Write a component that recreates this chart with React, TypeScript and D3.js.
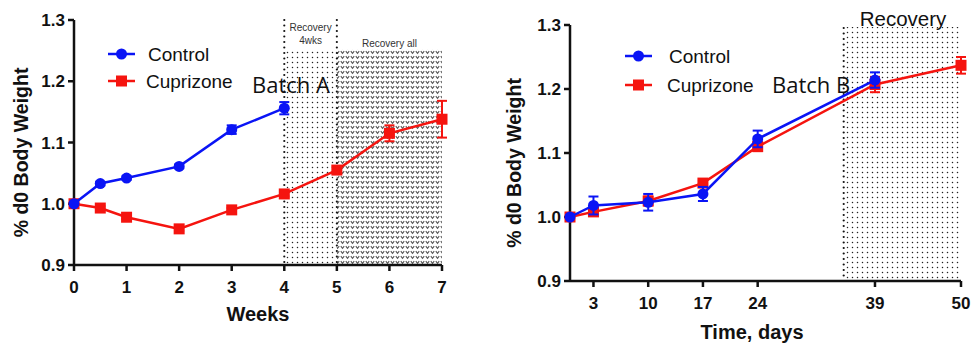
import React from "react";
import * as d3 from "d3";

// Batch A (weeks)
const weeksControl = [0, 0.5, 1, 2, 3, 4];
const controlA = [1.0, 1.033, 1.042, 1.061, 1.121, 1.156];
const controlAErr = [0, 0.003, 0.003, 0.003, 0.007, 0.01];
const weeksCupri = [0, 0.5, 1, 2, 3, 4, 5, 6, 7];
const cupriA = [1.0, 0.993, 0.978, 0.959, 0.99, 1.016, 1.055, 1.115, 1.138];
const cupriAErr = [0, 0.003, 0.003, 0.003, 0.003, 0.004, 0.006, 0.013, 0.03];
const weekTicks = [0, 1, 2, 3, 4, 5, 6, 7];

// Batch B (days)
const daysControl = [0, 3, 10, 17, 24, 39];
const controlB = [1.0, 1.018, 1.023, 1.036, 1.122, 1.214];
const controlBErr = [0, 0.014, 0.013, 0.011, 0.013, 0.012];
const daysCupri = [0, 3, 10, 17, 24, 39, 50];
const cupriB = [1.0, 1.008, 1.025, 1.053, 1.11, 1.207, 1.237];
const cupriBErr = [0, 0.006, 0.007, 0.004, 0.007, 0.012, 0.013];
const dayTicks = [3, 10, 17, 24, 39, 50];

const yTicks = [0.9, 1.0, 1.1, 1.2, 1.3];

const BLUE = "#0a14f5";
const RED = "#f5140f";
const ARIAL = "'Liberation Sans', Arial, sans-serif";
const SOFT = "'Open Sans', sans-serif";

type Pt = { x: number; y: number; e: number };
const zipPts = (xs: number[], ys: number[], es: number[]): Pt[] => xs.map((x, i) => ({ x, y: ys[i], e: es[i] }));

function Series({ pts, x, y, color, shape }: { pts: Pt[]; x: any; y: any; color: string; shape: "circle" | "square" }) {
  const line = d3.line<Pt>().x(d => x(d.x)).y(d => y(d.y));
  return (
    <g>
      <path d={line(pts) || ""} fill="none" stroke={color} strokeWidth={2.5} />
      {pts.map((d, i) => d.e > 0 && (
        <g key={"e" + i} stroke={color} strokeWidth={2}>
          <line x1={x(d.x)} x2={x(d.x)} y1={y(d.y - d.e)} y2={y(d.y + d.e)} />
          <line x1={x(d.x) - 5} x2={x(d.x) + 5} y1={y(d.y - d.e)} y2={y(d.y - d.e)} />
          <line x1={x(d.x) - 5} x2={x(d.x) + 5} y1={y(d.y + d.e)} y2={y(d.y + d.e)} />
        </g>
      ))}
      {pts.map((d, i) => shape === "circle"
        ? <circle key={i} cx={x(d.x)} cy={y(d.y)} r={5.5} fill={color} />
        : <rect key={i} x={x(d.x) - 5.5} y={y(d.y) - 5.5} width={11} height={11} fill={color} />)}
    </g>
  );
}

function Axes({ x, y, xTicks, xLabel, xLabelX, xLabelY, yLabelX }: any) {
  const [x0, x1] = x.range();
  const [y0, y1] = y.range();
  return (
    <g fontFamily={ARIAL} fontWeight="bold" fill="#111">
      <line x1={x0} x2={x1} y1={y0} y2={y0} stroke="#111" strokeWidth={2.5} />
      <line x1={x0} x2={x0} y1={y0 + 1} y2={y1} stroke="#111" strokeWidth={2.5} />
      {yTicks.map(t => (
        <g key={t}>
          <line x1={x0 - 6} x2={x0} y1={y(t)} y2={y(t)} stroke="#111" strokeWidth={2.5} />
          <text x={x0 - 9} y={y(t) + 6} textAnchor="end" fontSize={17}>{t.toFixed(1)}</text>
        </g>
      ))}
      {xTicks.map((t: number) => (
        <g key={t}>
          <line x1={x(t)} x2={x(t)} y1={y0} y2={y0 + 6} stroke="#111" strokeWidth={2.5} />
          <text x={x(t)} y={y0 + 28} textAnchor="middle" fontSize={17}>{t}</text>
        </g>
      ))}
      <text x={xLabelX} y={xLabelY} textAnchor="middle" fontSize={20}>{xLabel}</text>
      <text transform={`translate(${yLabelX},${(y0 + y1) / 2 + 10}) rotate(-90)`} textAnchor="middle" fontSize={19.5}>% d0 Body Weight</text>
    </g>
  );
}

function DotBorder({ x, y0, y1 }: { x: number; y0: number; y1: number }) {
  const ys = d3.range(y0, y1, 5.5);
  return <g fill="#111">{ys.map(v => <circle key={v} cx={x} cy={v} r={1.1} />)}</g>;
}

function Legend({ x, y1, y2, tx }: { x: number; y1: number; y2: number; tx: number }) {
  return (
    <g fontFamily={ARIAL} fontSize={19} fill="#111">
      <line x1={x} x2={x + 27} y1={y1} y2={y1} stroke={BLUE} strokeWidth={2.5} />
      <circle cx={x + 13.5} cy={y1} r={5.5} fill={BLUE} />
      <text x={tx} y={y1 + 7}>Control</text>
      <line x1={x} x2={x + 27} y1={y2} y2={y2} stroke={RED} strokeWidth={2.5} />
      <rect x={x + 8} y={y2 - 5.5} width={11} height={11} fill={RED} />
      <text x={tx - 2} y={y2 + 7}>Cuprizone</text>
    </g>
  );
}

export default function App() {
  const xA = d3.scaleLinear().domain([0, 7]).range([74, 442]);
  const yA = d3.scaleLinear().domain([0.9, 1.3]).range([265, 20]);
  const xB = d3.scaleLinear().domain([0, 50]).range([570, 961]);
  const yB = d3.scaleLinear().domain([0.9, 1.3]).range([281, 25]);

  return (
    <svg width={972} height={344} style={{ position: "absolute", left: 0, top: 0 }}>
      <defs>
        <pattern id="dots" width={5} height={5} patternUnits="userSpaceOnUse">
          <circle cx={2.5} cy={2.5} r={0.75} fill="#222" />
        </pattern>
        <pattern id="hearts" width={5} height={5} patternUnits="userSpaceOnUse">
          <path d="M0.8,1.2 L2.5,3.4 L4.2,1.2" fill="none" stroke="#555" strokeWidth={1.1} />
        </pattern>
      </defs>

      {/* Batch A */}
      <rect x={xA(4)} y={49} width={xA(5) - xA(4)} height={yA(0.9) - 49} fill="url(#dots)" />
      <rect x={xA(5)} y={49} width={xA(7) - xA(5)} height={yA(0.9) - 49} fill="url(#hearts)" />
      <DotBorder x={xA(4)} y0={20} y1={265} />
      <DotBorder x={xA(5)} y0={20} y1={265} />
      <g fontFamily={ARIAL} fontSize={10} fill="#333" textAnchor="middle">
        <text x={(xA(4) + xA(5)) / 2} y={31}>Recovery</text>
        <text x={(xA(4) + xA(5)) / 2} y={44}>4wks</text>
        <text x={xA(6)} y={47}>Recovery all</text>
      </g>
      <Axes x={xA} y={yA} xTicks={weekTicks} xLabel="Weeks" xLabelX={258} xLabelY={321} yLabelX={28} />
      <Series pts={zipPts(weeksCupri, cupriA, cupriAErr)} x={xA} y={yA} color={RED} shape="square" />
      <Series pts={zipPts(weeksControl, controlA, controlAErr)} x={xA} y={yA} color={BLUE} shape="circle" />
      <Legend x={108} y1={54} y2={81} tx={148} />
      <text x={252} y={93} fontFamily={SOFT} fontSize={22} fill="#111">Batch A</text>

      {/* Batch B */}
      <rect x={xB(35)} y={27} width={xB(50) - xB(35)} height={yB(0.9) - 27} fill="url(#dots)" />
      <DotBorder x={xB(35)} y0={28} y1={281} />
      <text x={903} y={26} textAnchor="middle" fontFamily={ARIAL} fontSize={20.5} fill="#111">Recovery</text>
      <Axes x={xB} y={yB} xTicks={dayTicks} xLabel="Time, days" xLabelX={752} xLabelY={339} yLabelX={521} />
      <Series pts={zipPts(daysCupri, cupriB, cupriBErr)} x={xB} y={yB} color={RED} shape="square" />
      <Series pts={zipPts(daysControl, controlB, controlBErr)} x={xB} y={yB} color={BLUE} shape="circle" />
      <Legend x={625} y1={56} y2={85} tx={669} />
      <text x={772} y={93} fontFamily={SOFT} fontSize={22} fill="#111">Batch B</text>
    </svg>
  );
}
